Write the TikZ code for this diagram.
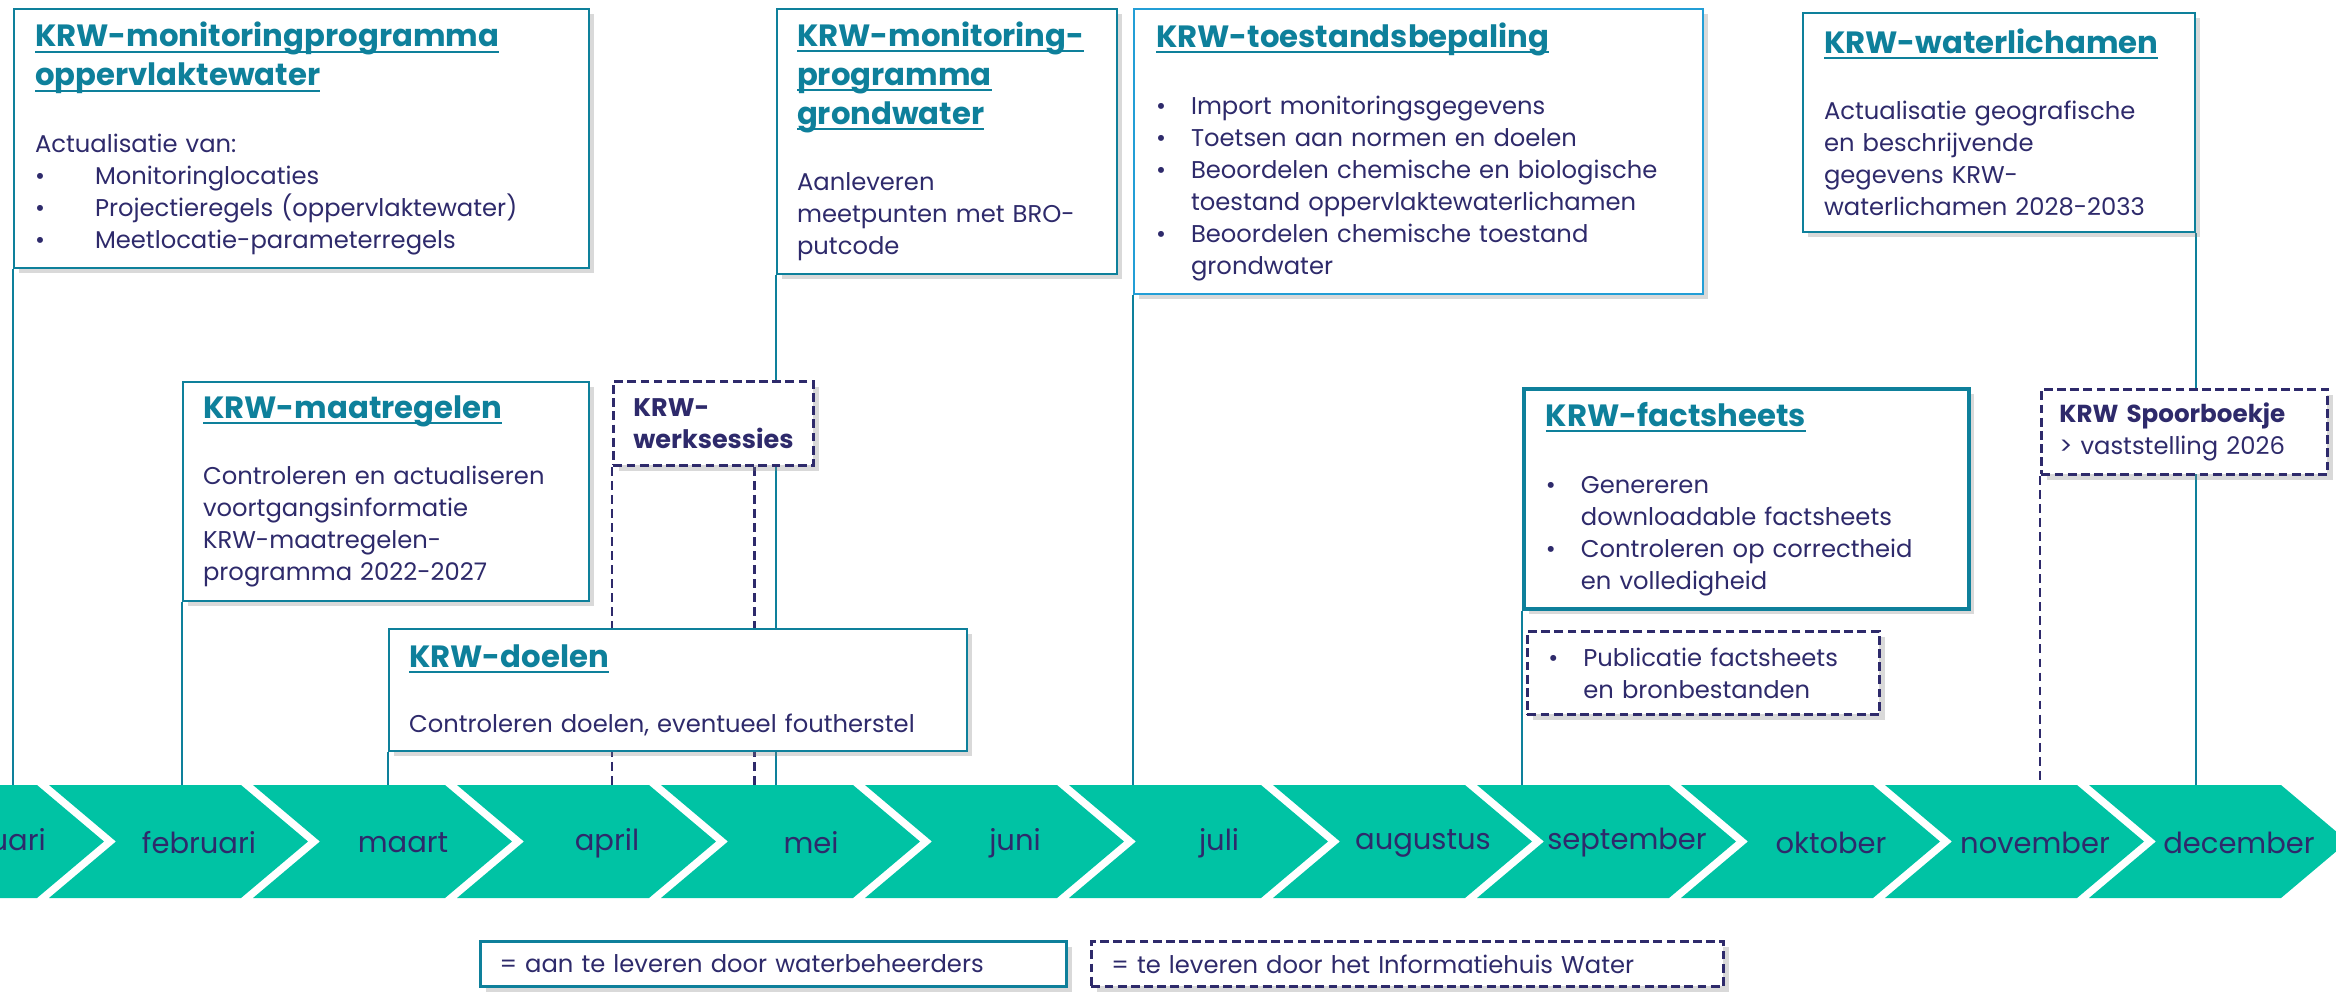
\documentclass[tikz,border=0pt]{standalone}
\usepackage{fontspec}
\setmainfont{Poppins}
\usetikzlibrary{shadows,backgrounds}

\definecolor{krwteal}{RGB}{14,128,155}
\definecolor{krwblue}{RGB}{35,158,214}
\definecolor{krwink}{RGB}{46,42,107}
\definecolor{krwgreen}{RGB}{0,195,164}

\newsavebox\ttlbox
\newcommand\ttl[1]{\leavevmode{\color{krwteal}\fontsize{17.5}{22}\selectfont\bfseries
  \sbox\ttlbox{#1}\rlap{\rule[-3.2pt]{\wd\ttlbox}{1.1pt}}\usebox\ttlbox}}
\newcommand\bul[1][0.7cm]{\makebox[#1][l]{\textbullet}}
\newcommand\bulind[1][0.7cm]{\hspace*{#1}}

\tikzset{
  krwbox/.style={draw=krwteal, line width=1.2pt, fill=white, anchor=north west,
    align=left, text=krwink, font=\fontsize{13.8}{18.2}\selectfont, inner ysep=0pt,
    drop shadow={shadow xshift=3pt, shadow yshift=-3pt, opacity=.3}},
  dashbox/.style={krwbox, draw=krwink, line width=1.6pt, dash pattern=on 5pt off 2.5pt},
  tline/.style={draw=krwteal, line width=1.6pt},
  dline/.style={draw=krwink, line width=1.5pt, dash pattern=on 5pt off 3pt},
  chev/.style={fill=krwgreen},
  month/.style={text=krwink, font=\fontsize{16.5}{20}\selectfont},
}

\begin{document}
\begin{tikzpicture}[x=0.02cm, y=-0.02cm]
\path[use as bounding box, clip] (0,0) rectangle (2336,994);

% months
\foreach \m [count=\i from 0] in {januari,februari,maart,april,mei,juni,juli,augustus,september,oktober,november,december}{
  \pgfmathsetmacro\xa{-155+204*\i}
  \fill[chev] (\xa,785) -- ++(192,0) -- ++(67,56.5) -- ++(-67,56.5) -- ++(-192,0) -- ++(67,-56.5) -- cycle;
  \node[month] (month\i) at (\xa+150,843) {\m};
}
\coordinate (band) at (0,785);

% top row
\node[krwbox, text width=10.66cm, inner xsep=.42cm, minimum height=5.18cm] (opp) at (13,8)
  {\ttl{KRW-monitoringprogramma}\\[4pt]
   \ttl{oppervlaktewater}\\[19.5pt]
   Actualisatie van:\\
   \bul[1.2cm]Monitoringlocaties\\
   \bul[1.2cm]Projectieregels (oppervlaktewater)\\
   \bul[1.2cm]Meetlocatie-parameterregels};
\node[krwbox, text width=6cm, inner xsep=.4cm, minimum height=5.3cm] (grond) at (776,8)
  {\ttl{KRW-monitoring-}\\[4pt]
   \ttl{programma}\\[4pt]
   \ttl{grondwater}\\[19.5pt]
   Aanleveren\\
   meetpunten met BRO-\\
   putcode};
\node[krwbox, draw=krwblue, text width=10.5cm, inner xsep=.44cm, minimum height=5.7cm] (toest) at (1133,8)
  {\ttl{KRW-toestandsbepaling}\\[20pt]
   \bul Import monitoringsgegevens\\
   \bul Toetsen aan normen en doelen\\
   \bul Beoordelen chemische en biologische\\
   \bulind toestand oppervlaktewaterlichamen\\
   \bul Beoordelen chemische toestand\\
   \bulind grondwater};
\node[krwbox, text width=7cm, inner xsep=.42cm, minimum height=4.38cm] (wlich) at (1802,12)
  {\ttl{KRW-waterlichamen}\\[19.5pt]
   Actualisatie geografische\\
   en beschrijvende\\
   gegevens KRW-\\
   waterlichamen 2028-2033};

% middle row
\node[krwbox, text width=7.32cm, inner xsep=.4cm, minimum height=4.38cm] (maatr) at (182,381)
  {\ttl{KRW-maatregelen}\\[19.5pt]
   Controleren en actualiseren\\
   voortgangsinformatie\\
   KRW-maatregelen-\\
   programma 2022-2027};
\node[dashbox, text width=3.2cm, inner xsep=.4cm, minimum height=1.68cm,
  font=\fontsize{14.5}{18.2}\selectfont\bfseries] (werks) at (612,380)
  {KRW-\\werksessies};
\coordinate (werksR) at ([xshift=-1.2cm]werks.south east);
\node[krwbox, text width=10.76cm, inner xsep=.4cm, minimum height=2.44cm] (doel) at (388,628)
  {\ttl{KRW-doelen}\\[19pt]
   Controleren doelen, eventueel foutherstel};
\node[krwbox, line width=2.2pt, text width=8.02cm, inner xsep=.44cm, minimum height=4.4cm] (facts) at (1522,387)
  {\ttl{KRW-factsheets}\\[20pt]
   \bul Genereren\\
   \bulind downloadable factsheets\\
   \bul Controleren op correctheid\\
   \bulind en volledigheid};
\node[dashbox, text width=6.2cm, inner xsep=.42cm, minimum height=1.66cm] (publ) at (1526,630)
  {\bul Publicatie factsheets\\
   \bulind en bronbestanden};
\node[dashbox, text width=5cm, inner xsep=.36cm, minimum height=1.7cm] (spoor) at (2040,388)
  {{\bfseries\fontsize{14}{18.2}\selectfont KRW Spoorboekje}\\
   > vaststelling 2026};

% legend
\node[krwbox, line width=1.8pt, text width=10.96cm, inner xsep=.38cm, minimum height=.9cm] (lega) at (479,940)
  {= aan te leveren door waterbeheerders};
\node[dashbox, text width=11.84cm, inner xsep=.4cm, minimum height=.9cm] (legb) at (1090,940)
  {= te leveren door het Informatiehuis Water};

% lines down to the months
\begin{scope}[on background layer]
  \foreach \b in {opp,grond,toest,maatr,doel,facts}
    \draw[tline] (\b.south west) -- (\b.south west |- band);
  \draw[tline] (wlich.south east) -- (wlich.south east |- band);
  \draw[dline] (werks.south west) -- (werks.south west |- band);
  \draw[dline] (werksR) -- (werksR |- band);
  \draw[dline] (spoor.south west) -- (spoor.south west |- band);
\end{scope}
\end{tikzpicture}
\end{document}
